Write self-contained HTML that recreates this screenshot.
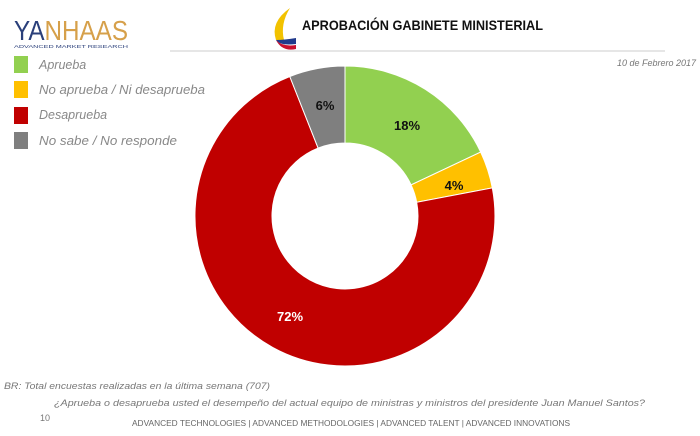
<!DOCTYPE html>
<html><head><meta charset="utf-8"><style>
body{margin:0;width:700px;height:431px;background:#fff;overflow:hidden;font-family:"Liberation Sans",sans-serif;}
</style></head><body>
<svg width="700" height="431" xmlns="http://www.w3.org/2000/svg" font-family="Liberation Sans, sans-serif">
<text x="14" y="40" font-size="28" fill="#2a3f7a" textLength="114" lengthAdjust="spacingAndGlyphs">YA<tspan fill="#d6a04a">NHAAS</tspan></text>
<text x="14" y="48" font-size="4.5" fill="#2a3f7a" textLength="114" lengthAdjust="spacingAndGlyphs">ADVANCED MARKET RESEARCH</text>
<path d="M290 8 Q270 22 276 40 L284 40 Q280 24 290 8Z" fill="#f2c200"/>
<path d="M276 40 Q280 46 296 44 L296 38 Q284 40 276 40Z" fill="#203a8c"/>
<path d="M276 40 Q282 52 296 49 L296 45 Q282 47 276 40Z" fill="#c8102e"/>
<text x="302" y="30" font-size="14" font-weight="bold" fill="#111" textLength="241" lengthAdjust="spacingAndGlyphs">APROBACIÓN GABINETE MINISTERIAL</text>
<line x1="170" y1="51" x2="665" y2="51" stroke="#ccc" stroke-width="1"/>
<text x="696" y="66" font-size="9" font-style="italic" fill="#777" text-anchor="end">10 de Febrero 2017</text>
<g font-size="12.5" font-style="italic" fill="#888">
<rect x="14" y="56" width="14" height="17" fill="#92d050"/><text x="39" y="69">Aprueba</text>
<rect x="14" y="81" width="14" height="17" fill="#ffc000"/><text x="39" y="94" textLength="166" lengthAdjust="spacingAndGlyphs">No aprueba / Ni desaprueba</text>
<rect x="14" y="107" width="14" height="17" fill="#c00000"/><text x="39" y="119">Desaprueba</text>
<rect x="14" y="132" width="14" height="17" fill="#7f7f7f"/><text x="39" y="145" textLength="138" lengthAdjust="spacingAndGlyphs">No sabe /  No responde</text>
</g>
<g stroke="#fff" stroke-width="1">
<path d="M345 66 A150 150 0 0 1 480.7 152.1 L411.1 184.9 A73 73 0 0 0 345 143Z" fill="#92d050"/>
<path d="M480.7 152.1 A150 150 0 0 1 492.3 187.9 L416.7 202.3 A73 73 0 0 0 411.1 184.9Z" fill="#ffc000"/>
<path d="M492.3 187.9 A150 150 0 1 1 289.8 76.5 L318.1 148.1 A73 73 0 1 0 416.7 202.3Z" fill="#c00000"/>
<path d="M289.8 76.5 A150 150 0 0 1 345 66 L345 143 A73 73 0 0 0 318.1 148.1Z" fill="#7f7f7f"/>
</g>
<g font-size="13" font-weight="bold" text-anchor="middle">
<text x="407" y="130" fill="#111">18%</text>
<text x="454" y="190" fill="#111">4%</text>
<text x="325" y="110" fill="#111">6%</text>
<text x="290" y="321" fill="#fff">72%</text>
</g>
<text x="4" y="389" font-size="9" font-style="italic" fill="#777" textLength="266" lengthAdjust="spacingAndGlyphs">BR: Total encuestas realizadas en la última semana (707)</text>
<text x="54" y="406" font-size="9" font-style="italic" fill="#777" textLength="591" lengthAdjust="spacingAndGlyphs">¿Aprueba o desaprueba usted el desempeño del actual equipo de ministras y ministros del presidente Juan Manuel Santos?</text>
<text x="40" y="421" font-size="9" fill="#777">10</text>
<text x="132" y="426" font-size="8" fill="#666" textLength="438" lengthAdjust="spacingAndGlyphs">ADVANCED TECHNOLOGIES  |  ADVANCED METHODOLOGIES  |  ADVANCED TALENT  |  ADVANCED INNOVATIONS</text>
</svg>
</body></html>
